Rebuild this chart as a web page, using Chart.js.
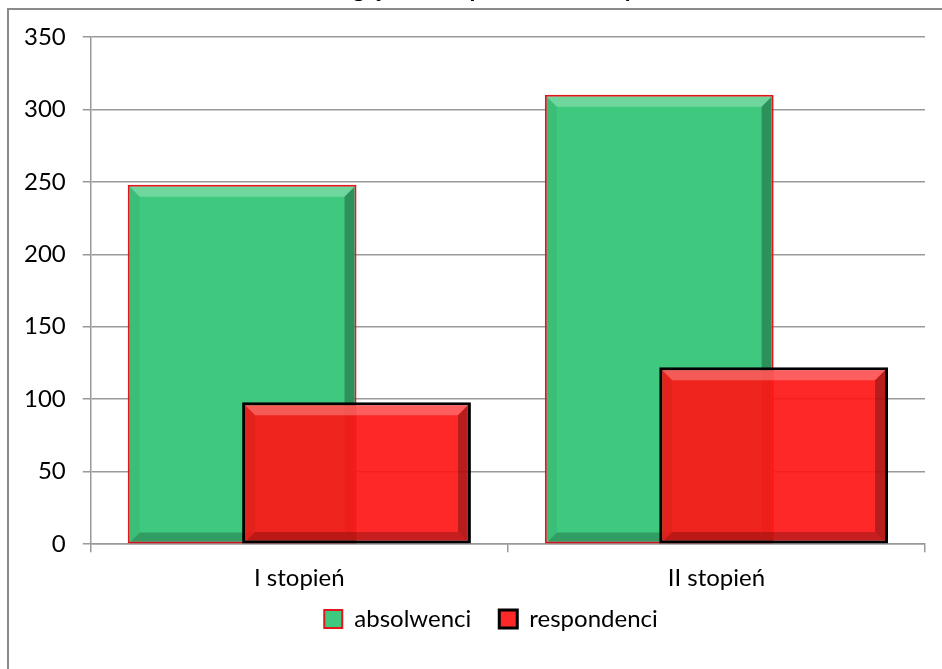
<!DOCTYPE html>
<html>
<head>
<meta charset="utf-8">
<script src="https://cdn.jsdelivr.net/npm/chart.js@4/dist/chart.umd.min.js"></script>
<style>
  html, body { margin: 0; padding: 0; background: #fff; overflow: hidden; }
  #frame { position: absolute; left: 7px; top: 8px; width: 1200px; height: 1200px; border: 2px solid #8a8a8a; }
  #chart { position: absolute; left: 0; top: -29px; }
</style>
</head>
<body>
<div id="frame"></div>
<canvas id="chart" width="942" height="698"></canvas>
<script>
// dane wykresu
const stopnie = ["I stopień", "II stopień"];
const absolwenci = [248, 310];
const respondenci = [98, 122];
const yTicks = [0, 50, 100, 150, 200, 250, 300, 350];
const tytul = "Zwrot ankiet względem stopnia ukończonych studiów";

const FONT = "Lato, 'Open Sans', sans-serif";

// efekt "wypukłego" słupka jak w Excelu
function bevel(chart, idx) {
    const ctx = chart.ctx;
    const meta = chart.getDatasetMeta(idx);
    const bw = chart.data.datasets[idx].borderWidth;
    meta.data.forEach((bar) => {
        const p = bar.getProps(["x", "y", "base", "width"], true);
        const l = p.x - p.width / 2 + bw, r = p.x + p.width / 2 - bw;
        const t = p.y + bw, b = p.base - bw * 0.5;
        const s = 10;
        ctx.save();
        // góra - jaśniej
        ctx.fillStyle = "rgba(255,255,255,0.25)";
        ctx.beginPath();
        ctx.moveTo(l, t); ctx.lineTo(r, t); ctx.lineTo(r - s, t + s); ctx.lineTo(l + s, t + s);
        ctx.closePath(); ctx.fill();
        // prawa - ciemniej
        ctx.fillStyle = "rgba(0,0,0,0.28)";
        ctx.beginPath();
        ctx.moveTo(r, t); ctx.lineTo(r, b); ctx.lineTo(r - s, b - s); ctx.lineTo(r - s, t + s);
        ctx.closePath(); ctx.fill();
        // dół
        ctx.fillStyle = "rgba(0,0,0,0.22)";
        ctx.beginPath();
        ctx.moveTo(l, b); ctx.lineTo(r, b); ctx.lineTo(r - s, b - s); ctx.lineTo(l + s, b - s);
        ctx.closePath(); ctx.fill();
        // lewa - lekko
        ctx.fillStyle = "rgba(0,0,0,0.05)";
        ctx.beginPath();
        ctx.moveTo(l, t); ctx.lineTo(l, b); ctx.lineTo(l + s, b - s); ctx.lineTo(l + s, t + s);
        ctx.closePath(); ctx.fill();
        ctx.restore();
    });
}

// czerwone słupki rysujemy na wierzchu zielonych
const overlapPlugin = {
    id: "overlap",
    beforeDatasetDraw(chart, args) {
        if (args.index === 1) return false;
    },
    afterDatasetDraw(chart, args) {
        if (args.index === 0) bevel(chart, 0);
    },
    afterDatasetsDraw(chart) {
        chart.getDatasetMeta(1).controller.draw();
        bevel(chart, 1);
    },
    afterLayout(chart) {
        // legenda: troche w prawo i wyzej
        chart.legend.left += 25;
        chart.legend.right += 25;
        chart.legend.top -= 26;
        chart.legend.bottom -= 26;
    }
};

const ctx = document.getElementById("chart").getContext("2d");
new Chart(ctx, {
    type: "bar",
    data: {
        labels: stopnie,
        datasets: [
            {
                label: "absolwenci",
                data: absolwenci,
                backgroundColor: "#3fc97e",
                borderColor: "#e3161b",
                borderWidth: 2,
                borderSkipped: false,
                categoryPercentage: 0.5485,
                barPercentage: 2.0
            },
            {
                label: "respondenci",
                data: respondenci,
                backgroundColor: "rgba(255,22,22,0.92)",
                borderColor: "#000000",
                borderWidth: 3,
                borderSkipped: false,
                categoryPercentage: 0.5485,
                barPercentage: 2.0
            }
        ]
    },
    options: {
        responsive: false,
        animation: false,
        devicePixelRatio: 1,
        layout: {
            padding: { left: 7, right: 17, top: 0, bottom: 2 }
        },
        plugins: {
            title: {
                display: true,
                text: tytul,
                color: "#000",
                font: { family: FONT, size: 24, weight: "bold" },
                padding: { top: 4, bottom: 33 }
            },
            legend: {
                position: "bottom",
                labels: {
                    color: "#000",
                    font: { family: FONT, size: 24 },
                    boxWidth: 18,
                    boxHeight: 18,
                    padding: 28
                }
            },
            tooltip: { enabled: false }
        },
        scales: {
            y: {
                min: 0,
                max: 350,
                afterBuildTicks: (scale) => {
                    scale.ticks = yTicks.map((v) => ({ value: v }));
                },
                ticks: {
                    color: "#000",
                    font: { family: FONT, size: 24 },
                    padding: 17
                },
                grid: {
                    color: "#999",
                    lineWidth: 1.5,
                    tickLength: 8
                },
                border: { color: "#999", width: 1.5 }
            },
            x: {
                ticks: {
                    color: "#000",
                    font: { family: FONT, size: 24 },
                    padding: 12
                },
                grid: {
                    drawOnChartArea: false,
                    color: "#999",
                    lineWidth: 1.5,
                    tickLength: 8
                },
                border: { color: "#999", width: 1.5 }
            }
        }
    },
    plugins: [overlapPlugin]
});
</script>
</body>
</html>
